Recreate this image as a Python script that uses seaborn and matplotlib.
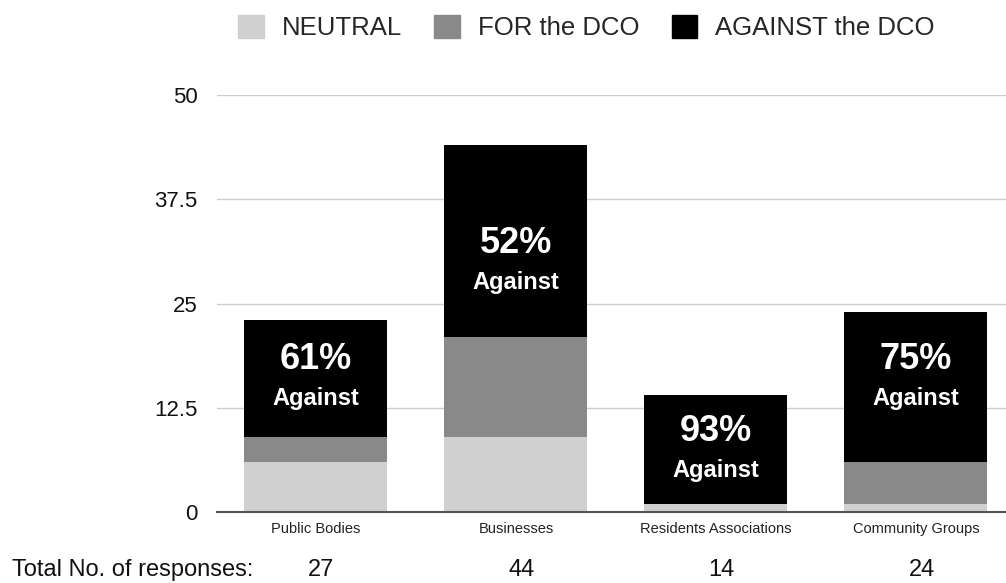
import matplotlib
matplotlib.use('Agg')
import matplotlib.pyplot as plt
import matplotlib.patches as mpatches
import numpy as np
import pandas as pd
import seaborn as sns

# response counts
groups = ['Public Bodies', 'Businesses', 'Residents Associations', 'Community Groups']
neutral = [6, 9, 1, 1]
for_dco = [3, 12, 0, 5]
against_dco = [14, 23, 13, 18]
pct_against = ['61%', '52%', '93%', '75%']
total_responses = ['27', '44', '14', '24']

# vertical centre of each in-bar label pair (layout only)
label_centre = [15.95, 29.85, 7.3, 15.95]

sns.set_style('white')
plt.rcParams['font.family'] = ['Liberation Sans', 'DejaVu Sans']

colors = {'NEUTRAL': '#d0d0d0', 'FOR the DCO': '#898989', 'AGAINST the DCO': '#000000'}

df = pd.DataFrame({'group': groups, 'neutral': neutral, 'for': for_dco, 'against': against_dco})
df['b_for'] = df['neutral']
df['b_against'] = df['neutral'] + df['for']

fig = plt.figure(figsize=(10.06, 5.83), dpi=100)
ax = fig.add_axes([0.2157, 0.1218, 0.7843, 0.7152])

sns.barplot(data=df, x='group', y='neutral', color=colors['NEUTRAL'], width=0.715,
            saturation=1, linewidth=0, ax=ax)
sns.barplot(data=df, x='group', y='for', bottom=df['b_for'], color=colors['FOR the DCO'],
            width=0.715, saturation=1, linewidth=0, ax=ax)
sns.barplot(data=df, x='group', y='against', bottom=df['b_against'], color=colors['AGAINST the DCO'],
            width=0.715, saturation=1, linewidth=0, ax=ax)

for i in range(len(groups)):
    ax.annotate(pct_against[i], (i, label_centre[i]), xytext=(0, 14), textcoords='offset points',
                ha='center', va='center', color='white', fontsize=26, fontweight='bold')
    ax.annotate('Against', (i, label_centre[i]), xytext=(0, -14), textcoords='offset points',
                ha='center', va='center', color='white', fontsize=17, fontweight='bold')

ax.set_ylim(0, 50)
ax.set_xlim(-0.495, 3.45)
ax.set_yticks([0, 12.5, 25, 37.5, 50])
ax.set_yticklabels(['0', '12.5', '25', '37.5', '50'])
ax.yaxis.grid(True, color='#cccccc', linewidth=1)
ax.set_axisbelow(True)
ax.set_xlabel('')
ax.set_ylabel('')
ax.tick_params(axis='y', length=0, labelsize=16, pad=14, labelcolor='#111111')
ax.tick_params(axis='x', length=0, labelsize=10.5, pad=7, labelcolor='#222222')
for s in ['top', 'right', 'left']:
    ax.spines[s].set_visible(False)
ax.spines['bottom'].set_color('#555555')
ax.spines['bottom'].set_linewidth(1.5)

# totals row below the chart
trans = matplotlib.transforms.blended_transform_factory(ax.transData, ax.transAxes)
for i, t in enumerate(total_responses):
    ax.annotate(t, (i, -0.139), xycoords=trans, xytext=(4, 0), textcoords='offset points',
                ha='center', va='center', fontsize=17, color='#111111')
fig.text(0.012, 0.022, 'Total No. of responses:', ha='left', va='center', fontsize=17, color='#111111')

handles = [mpatches.Patch(color=c, label=k) for k, c in colors.items()]
fig.legend(handles=handles, loc='center', bbox_to_anchor=(0.583, 0.953), ncol=3,
           frameon=False, fontsize=18.5, handlelength=1.0, handleheight=1.0,
           handletextpad=0.7, columnspacing=1.25, borderpad=0)

fig.savefig('out.png', dpi=100)
